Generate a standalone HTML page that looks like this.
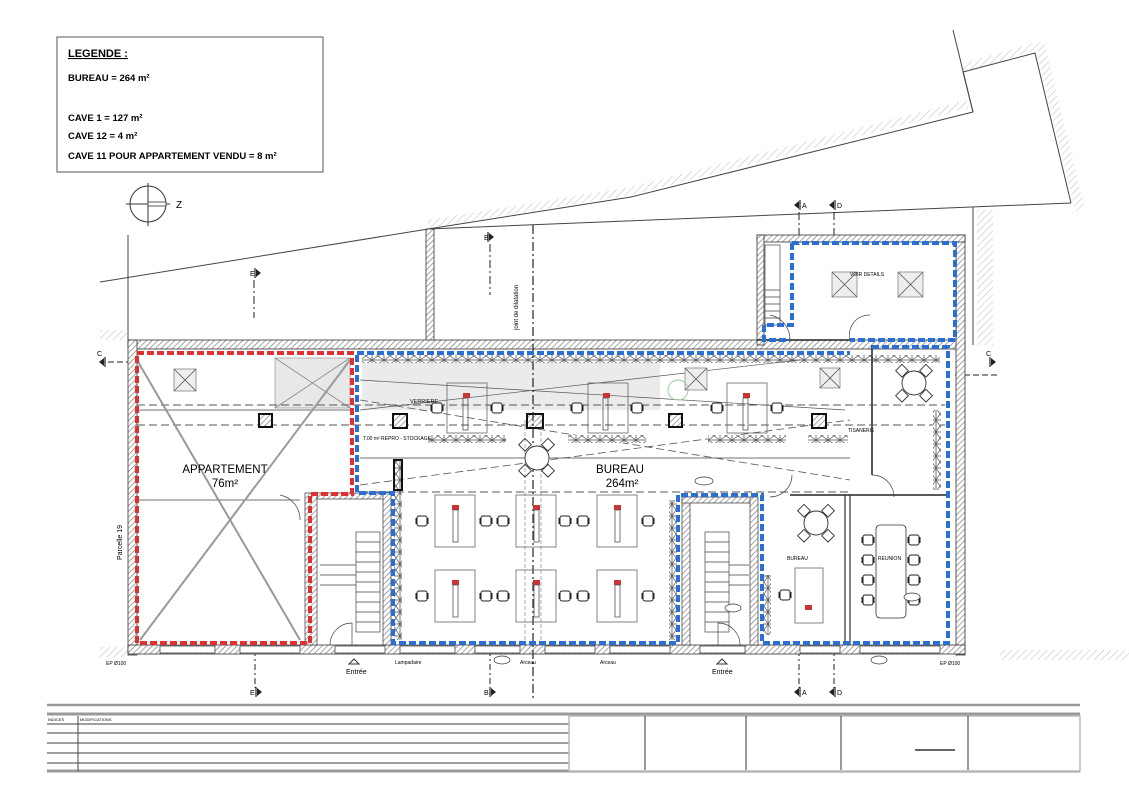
<!DOCTYPE html>
<html><head><meta charset="utf-8"><style>
html,body{margin:0;padding:0;background:#fff}
svg{display:block}
text{font-family:"Liberation Sans",sans-serif}
</style></head><body>
<svg width="1129" height="800" viewBox="0 0 1129 800" xmlns="http://www.w3.org/2000/svg">
<defs>
<pattern id="h" width="4" height="4" patternUnits="userSpaceOnUse" patternTransform="rotate(45)">
<rect width="4" height="4" fill="#fff"/><line x1="0" y1="0" x2="0" y2="4" stroke="#777" stroke-width="1.3"/></pattern>
<pattern id="hl" width="5" height="5" patternUnits="userSpaceOnUse" patternTransform="rotate(45)">
<line x1="0" y1="0" x2="0" y2="5" stroke="#bbb" stroke-width="1"/></pattern>
<pattern id="xx" width="12" height="8" patternUnits="userSpaceOnUse">
<rect width="12" height="8" fill="#fff" stroke="#555" stroke-width="0.8"/><path d="M0 0L12 8M0 8L12 0" stroke="#555" stroke-width="0.7"/></pattern>
<pattern id="xv" width="8" height="12" patternUnits="userSpaceOnUse">
<rect width="8" height="12" fill="#fff" stroke="#555" stroke-width="0.8"/><path d="M0 0L8 12M0 12L8 0" stroke="#555" stroke-width="0.7"/></pattern>
<g id="ch"><rect x="-5" y="-5" width="10" height="10" rx="2" fill="#fff" stroke="#222" stroke-width="1"/><path d="M-6 -3v6M6 -3v6" stroke="#222" stroke-width="1"/></g>
<g id="sec"><path d="M0 -5v10" stroke="#222" stroke-width="1.2"/><path d="M1 -4l5 4l-5 4z" fill="#222"/></g>
</defs>

<!-- Legend -->
<rect x="57" y="37" width="266" height="135" fill="#fff" stroke="#555" stroke-width="1"/>
<text x="68" y="57" font-size="11" font-weight="bold" text-decoration="underline">LEGENDE :</text>
<text x="68" y="81" font-size="9.5" font-weight="bold">BUREAU = 264 m²</text>
<text x="68" y="121" font-size="9.5" font-weight="bold">CAVE 1 = 127 m²</text>
<text x="68" y="139" font-size="9.5" font-weight="bold">CAVE 12 = 4 m²</text>
<text x="68" y="159" font-size="9.5" font-weight="bold">CAVE 11 POUR APPARTEMENT VENDU = 8 m²</text>

<!-- compass -->
<circle cx="148" cy="204" r="18" fill="none" stroke="#333" stroke-width="1"/>
<path d="M126 204h44M148 183v43" stroke="#333" stroke-width="1"/>
<rect x="148" y="202" width="18" height="4" fill="#fff" stroke="#333" stroke-width="0.8"/>
<text x="176" y="208" font-size="10">Z</text>

<!-- site boundaries -->
<path d="M100 282 L428 229 L1071 203" fill="none" stroke="#444" stroke-width="1"/>
<path d="M428 229 L631 197 L973 112 L963 72 L1035 53 L1071 203" fill="none" stroke="#444" stroke-width="1"/>
<path d="M428 224 L631 191 L968 104" fill="none" stroke="url(#hl)" stroke-width="8"/>
<path d="M953 30 L973 112" fill="none" stroke="#444" stroke-width="1"/>
<path d="M1040 45 L1080 210" fill="none" stroke="url(#hl)" stroke-width="10"/>
<path d="M963 68 L1040 45" fill="none" stroke="url(#hl)" stroke-width="8"/>
<path d="M973 207 V345" fill="none" stroke="#444" stroke-width="1"/>
<path d="M985 210 V345" fill="none" stroke="url(#hl)" stroke-width="16"/>
<path d="M128 235 V345" fill="none" stroke="#444" stroke-width="1"/>
<path d="M100 335 H128" stroke="url(#hl)" stroke-width="10"/>
<rect x="426" y="229" width="8" height="116" fill="url(#h)" stroke="#333" stroke-width="0.8"/>
<path d="M1000 655 H1129" stroke="url(#hl)" stroke-width="10"/>
<path d="M100 652 H128" stroke="url(#hl)" stroke-width="10"/>

<!-- section markers -->
<g transform="translate(488,237)"><use href="#sec"/></g><text x="484" y="240" font-size="7">B</text>
<path d="M490 244V295" stroke="#222" stroke-dasharray="8 3 2 3"/>
<g transform="translate(255,273)"><use href="#sec"/></g><text x="250" y="276" font-size="7">E</text>
<path d="M254 280V318" stroke="#222" stroke-dasharray="8 3 2 3"/>
<g transform="translate(800,205)"><use href="#sec" transform="scale(-1,1)"/></g><text x="802" y="208" font-size="7">A</text>
<g transform="translate(835,205)"><use href="#sec" transform="scale(-1,1)"/></g><text x="837" y="208" font-size="7">D</text>
<path d="M799 212V245M834 212V245" stroke="#222" stroke-dasharray="8 3 2 3"/>
<g transform="translate(105,362)"><use href="#sec" transform="scale(-1,1)"/></g><text x="97" y="356" font-size="7">C</text>
<path d="M108 362H137" stroke="#222" stroke-dasharray="6 3"/>
<path d="M955 375H1000" stroke="#222" stroke-dasharray="6 3"/>
<g transform="translate(990,362)"><use href="#sec"/></g><text x="986" y="356" font-size="7">C</text>
<g transform="translate(256,692)"><use href="#sec"/></g><text x="250" y="695" font-size="7">E</text>
<g transform="translate(490,692)"><use href="#sec"/></g><text x="484" y="695" font-size="7">B</text>
<g transform="translate(800,692)"><use href="#sec" transform="scale(-1,1)"/></g><text x="802" y="695" font-size="7">A</text>
<g transform="translate(835,692)"><use href="#sec" transform="scale(-1,1)"/></g><text x="837" y="695" font-size="7">D</text>
<path d="M255 650V688M490 650V688M799 650V688M834 650V688" stroke="#222" stroke-dasharray="6 3 2 3"/>

<!-- building walls -->
<rect x="128" y="340" width="837" height="9" fill="url(#h)" stroke="#333" stroke-width="0.8"/>
<rect x="128" y="340" width="9" height="315" fill="url(#h)" stroke="#333" stroke-width="0.8"/>
<rect x="956" y="235" width="9" height="420" fill="url(#h)" stroke="#333" stroke-width="0.8"/>
<rect x="757" y="235" width="208" height="7" fill="url(#h)" stroke="#333" stroke-width="0.8"/>
<rect x="757" y="235" width="7" height="110" fill="url(#h)" stroke="#333" stroke-width="0.8"/>
<rect x="128" y="645" width="837" height="9" fill="url(#h)" stroke="#333" stroke-width="0.8"/>
<g fill="#fff" stroke="#333" stroke-width="0.7">
<rect x="160" y="646" width="55" height="7"/><rect x="240" y="646" width="60" height="7"/><rect x="335" y="646" width="50" height="7"/>
<rect x="400" y="646" width="55" height="7"/><rect x="475" y="646" width="45" height="7"/><rect x="545" y="646" width="50" height="7"/>
<rect x="610" y="646" width="60" height="7"/><rect x="700" y="646" width="45" height="7"/><rect x="800" y="646" width="40" height="7"/><rect x="860" y="646" width="80" height="7"/>
</g>

<!-- grey verriere -->
<rect x="275" y="358" width="75" height="50" fill="#e8e8e8" stroke="#888" stroke-width="0.6"/>
<path d="M275 358L350 408M350 358L275 408" stroke="#888" stroke-width="0.8"/>
<rect x="362" y="362" width="298" height="48" fill="#ebebeb"/>
<rect x="362" y="355" width="578" height="8" fill="url(#xx)"/>

<!-- interior walls -->
<rect x="305" y="493" width="12" height="152" fill="url(#h)" stroke="#333" stroke-width="0.7"/>
<rect x="317" y="493" width="70" height="6" fill="url(#h)" stroke="#333" stroke-width="0.7"/>
<rect x="383" y="493" width="8" height="152" fill="url(#h)" stroke="#333" stroke-width="0.7"/>
<rect x="682" y="497" width="8" height="148" fill="url(#h)" stroke="#333" stroke-width="0.7"/>
<rect x="682" y="497" width="70" height="6" fill="url(#h)" stroke="#333" stroke-width="0.7"/>
<rect x="750" y="497" width="8" height="148" fill="url(#h)" stroke="#333" stroke-width="0.7"/>
<path d="M845 495V645M850 495V645" stroke="#333" stroke-width="1.2"/>
<path d="M872 345V475M790 495H948M757 340H850" stroke="#222" stroke-width="1.5"/>
<path d="M137 500H300M360 458H850M137 410H350" stroke="#444" stroke-width="0.8"/>
<path d="M137 405H945M137 425H945M360 492H850" stroke="#555" stroke-width="0.9" stroke-dasharray="8 4"/>
<path d="M360 485L850 420M360 400L850 480" stroke="#555" stroke-width="0.8" stroke-dasharray="8 4"/>
<path d="M360 380L845 410M360 410L800 360" stroke="#555" stroke-width="0.7"/>
<path d="M137 360L300 640M350 360L140 640" stroke="#999" stroke-width="2"/>
<g fill="url(#h)" stroke="#111" stroke-width="2">
<rect x="259" y="414" width="13" height="13"/><rect x="393" y="414" width="14" height="14"/><rect x="527" y="414" width="16" height="14"/><rect x="669" y="414" width="13" height="13"/><rect x="812" y="414" width="14" height="14"/>
</g>
<path d="M533 225V700" stroke="#222" stroke-width="1.2" stroke-dasharray="9 3 2 3"/>
<path d="M525 420V645M541 420V645" stroke="#777" stroke-width="0.6" stroke-dasharray="4 2"/>
<text x="518" y="330" font-size="6" transform="rotate(-90 518 330)">joint de dilatation</text>

<rect x="428" y="435" width="78" height="8" fill="url(#xx)"/>
<rect x="568" y="435" width="78" height="8" fill="url(#xx)"/>
<rect x="708" y="435" width="78" height="8" fill="url(#xx)"/>
<rect x="808" y="435" width="40" height="8" fill="url(#xx)"/>
<rect x="394" y="460" width="8" height="180" fill="url(#xv)"/>
<rect x="669" y="500" width="8" height="140" fill="url(#xv)"/>
<rect x="763" y="575" width="8" height="60" fill="url(#xv)"/>
<rect x="933" y="410" width="8" height="80" fill="url(#xv)"/>
<rect x="394" y="460" width="8" height="30" fill="none" stroke="#111" stroke-width="2"/>

<g fill="none" stroke="#666" stroke-width="0.8">
<rect x="447" y="383" width="40" height="50"/><rect x="588" y="383" width="40" height="50"/><rect x="727" y="383" width="40" height="50"/>
<rect x="435" y="495" width="40" height="52"/><rect x="516" y="495" width="40" height="52"/><rect x="597" y="495" width="40" height="52"/>
<rect x="435" y="570" width="40" height="52"/><rect x="516" y="570" width="40" height="52"/><rect x="597" y="570" width="40" height="52"/>
<rect x="795" y="568" width="28" height="55"/>
<rect x="876" y="525" width="30" height="93" rx="4" stroke="#333"/>
</g>
<g fill="#c33">
<rect x="463" y="393" width="7" height="5"/><rect x="603" y="393" width="7" height="5"/><rect x="743" y="393" width="7" height="5"/>
<rect x="452" y="505" width="7" height="5"/><rect x="533" y="505" width="7" height="5"/><rect x="614" y="505" width="7" height="5"/>
<rect x="452" y="580" width="7" height="5"/><rect x="533" y="580" width="7" height="5"/><rect x="614" y="580" width="7" height="5"/>
<rect x="805" y="605" width="7" height="5"/>
</g>
<g stroke="#555" fill="none" stroke-width="0.8">
<rect x="463" y="398" width="5" height="32"/><rect x="603" y="398" width="5" height="32"/><rect x="743" y="398" width="5" height="32"/>
<rect x="453" y="510" width="5" height="32"/><rect x="534" y="510" width="5" height="32"/><rect x="615" y="510" width="5" height="32"/>
<rect x="453" y="585" width="5" height="32"/><rect x="534" y="585" width="5" height="32"/><rect x="615" y="585" width="5" height="32"/>
</g>
<g>
<use href="#ch" x="437" y="408"/><use href="#ch" x="497" y="408"/><use href="#ch" x="577" y="408"/><use href="#ch" x="637" y="408"/><use href="#ch" x="717" y="408"/><use href="#ch" x="777" y="408"/>
<use href="#ch" x="422" y="521"/><use href="#ch" x="486" y="521"/><use href="#ch" x="503" y="521"/><use href="#ch" x="565" y="521"/><use href="#ch" x="583" y="521"/><use href="#ch" x="648" y="521"/>
<use href="#ch" x="422" y="596"/><use href="#ch" x="486" y="596"/><use href="#ch" x="503" y="596"/><use href="#ch" x="565" y="596"/><use href="#ch" x="583" y="596"/><use href="#ch" x="648" y="596"/>
<use href="#ch" x="785" y="595"/>
<use href="#ch" x="868" y="540"/><use href="#ch" x="868" y="560"/><use href="#ch" x="868" y="580"/><use href="#ch" x="868" y="600"/>
<use href="#ch" x="914" y="540"/><use href="#ch" x="914" y="560"/><use href="#ch" x="914" y="580"/><use href="#ch" x="914" y="600"/>
</g>
<g fill="#fff" stroke="#333" stroke-width="0.9">
<circle cx="537" cy="458" r="12"/><circle cx="914" cy="383" r="12"/><circle cx="816" cy="523" r="12"/>
</g>
<g fill="none" stroke="#333" stroke-width="0.9">
<rect x="521" y="440" width="9" height="9" transform="rotate(45 525 444)"/><rect x="544" y="440" width="9" height="9" transform="rotate(45 548 444)"/>
<rect x="521" y="466" width="9" height="9" transform="rotate(45 525 470)"/><rect x="544" y="466" width="9" height="9" transform="rotate(45 548 470)"/>
<rect x="898" y="366" width="9" height="9" transform="rotate(45 902 370)"/><rect x="922" y="366" width="9" height="9" transform="rotate(45 926 370)"/>
<rect x="898" y="391" width="9" height="9" transform="rotate(45 902 395)"/><rect x="922" y="391" width="9" height="9" transform="rotate(45 926 395)"/>
<rect x="800" y="506" width="9" height="9" transform="rotate(45 804 510)"/><rect x="824" y="506" width="9" height="9" transform="rotate(45 828 510)"/>
<rect x="800" y="531" width="9" height="9" transform="rotate(45 804 535)"/><rect x="824" y="531" width="9" height="9" transform="rotate(45 828 535)"/>
</g>
<g fill="#eee" stroke="#777" stroke-width="0.7">
<rect x="174" y="369" width="22" height="22"/><rect x="685" y="368" width="22" height="22"/><rect x="820" y="368" width="20" height="20"/>
<rect x="832" y="272" width="25" height="25"/><rect x="898" y="272" width="25" height="25"/>
</g>
<path d="M174 369l22 22M196 369l-22 22M685 368l22 22M707 368l-22 22M820 368l20 20M840 368l-20 20M832 272l25 25M857 272l-25 25M898 272l25 25M923 272l-25 25" stroke="#555" stroke-width="0.8"/>
<circle cx="678" cy="390" r="10" fill="none" stroke="#9c9" stroke-width="1"/>

<g stroke="#444" stroke-width="0.7" fill="none">
<rect x="356" y="532" width="24" height="100"/><path d="M356 542h24M356 552h24M356 562h24M356 572h24M356 582h24M356 592h24M356 602h24M356 612h24M356 622h24"/>
<path d="M320 565h36M320 575h36M320 585h36"/>
<rect x="705" y="532" width="24" height="100"/><path d="M705 542h24M705 552h24M705 562h24M705 572h24M705 582h24M705 592h24M705 602h24M705 612h24M705 622h24"/>
<path d="M729 565h20M729 575h20M729 585h20"/>
<rect x="765" y="245" width="15" height="80"/><path d="M765 290h15M765 297h15M765 304h15M765 311h15M765 318h15"/>
<path d="M330 645a22 22 0 0 1 22 -22V645M740 645a22 22 0 0 0 -22 -22V645M300 520a25 25 0 0 0 -20 -25M790 340a25 25 0 0 0 -20 -25M850 340a20 20 0 0 1 20 -25M872 475a22 22 0 0 1 22 22M770 497a22 22 0 0 0 22 -22"/>
</g>

<path d="M137 353H352V494H310V643H137Z" fill="none" stroke="#e03030" stroke-width="4" stroke-dasharray="7 3"/>
<path d="M357 353H850M872 347H948V643H762V495H678V643H393V493H357V353" fill="none" stroke="#2a6fd6" stroke-width="4" stroke-dasharray="7 3"/>
<path d="M792 243H955V340H850M792 243V325H764V340H790" fill="none" stroke="#2a6fd6" stroke-width="4" stroke-dasharray="7 3"/>

<text x="225" y="473" font-size="11.5" text-anchor="middle">APPARTEMENT</text>
<text x="225" y="487" font-size="11.5" text-anchor="middle">76m²</text>
<text x="620" y="473" font-size="11.5" text-anchor="middle">BUREAU</text>
<text x="622" y="487" font-size="11.5" text-anchor="middle">264m²</text>
<text x="410" y="403" font-size="5.5">VERRIERE</text>
<text x="122" y="560" font-size="7" transform="rotate(-90 122 560)">Parcelle 19</text>
<g font-size="5">
<text x="363" y="440">T.00 m² REPRO - STOCKAGE</text>
<text x="848" y="432">TISANERIE</text>
<text x="787" y="560">BUREAU</text><text x="878" y="560">REUNION</text>
<text x="850" y="276">VOIR DETAILS</text>
<text x="106" y="665">EP Ø100</text><text x="940" y="665">EP Ø100</text>
<text x="395" y="664">Lampadaire</text><text x="520" y="664">Arceau</text><text x="600" y="664">Arceau</text>
</g>
<text x="346" y="674" font-size="7">Entrée</text><path d="M349 664l5 -5l5 5z" fill="none" stroke="#333"/>
<text x="712" y="674" font-size="7">Entrée</text><path d="M717 664l5 -5l5 5z" fill="none" stroke="#333"/>
<g fill="#fff" stroke="#333" stroke-width="0.7">
<ellipse cx="502" cy="660" rx="8" ry="4"/><ellipse cx="879" cy="660" rx="8" ry="4"/><ellipse cx="704" cy="481" rx="9" ry="4"/><ellipse cx="733" cy="608" rx="8" ry="4"/><ellipse cx="912" cy="597" rx="8" ry="4"/>
</g>

<g stroke="#999" fill="none">
<path d="M47 705H1080" stroke-width="2.5"/>
<path d="M47 714H1080" stroke-width="3"/>
<path d="M47 771H1080" stroke-width="3"/>
<path d="M47 724H569M47 733H569M47 743H569M47 753H569M47 763H569" stroke="#666" stroke-width="1.2"/>
</g>
<path d="M78 716V771" stroke="#444"/>
<rect x="569" y="716" width="511" height="55" fill="#fff" stroke="#bbb" stroke-width="1.5"/>
<path d="M645 716V770M746 716V770M841 716V770M968 716V770" stroke="#333"/>
<path d="M915 750H955" stroke="#333" stroke-width="1.5"/>
<text x="48" y="721" font-size="4">INDICES</text><text x="80" y="721" font-size="4">MODIFICATIONS</text>
</svg>
</body></html>
